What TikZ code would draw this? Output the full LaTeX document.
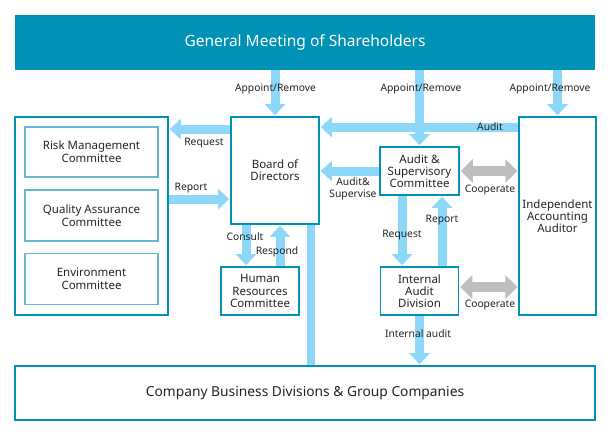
\documentclass[tikz,border=0pt]{standalone}
\usepackage{fontspec}
\setmainfont{Noto Sans}
\usetikzlibrary{arrows.meta}
\definecolor{govteal}{RGB}{0,146,182}
\definecolor{subteal}{RGB}{104,182,208}
\definecolor{flowblue}{RGB}{141,216,248}
\definecolor{coopgray}{RGB}{189,190,192}
\definecolor{inktext}{RGB}{35,35,35}
\tikzset{
	orgbox/.style   = {draw=govteal, line width=1.8pt, align=center, text=inktext,
	                   font=\fontsize{11.5}{12.3}\selectfont},
	subbox/.style   = {orgbox, draw=subteal, font=\fontsize{11.5}{13}\selectfont},
	flow/.style     = {draw=flowblue, line width=9pt, shorten >=0.9pt,
	                   -{Triangle[width=20pt,length=11pt]}},
	flowline/.style = {draw=flowblue, line width=8pt},
	coop/.style     = {draw=coopgray, line width=10pt, shorten >=0.9pt, shorten <=0.9pt,
	                   {Triangle[width=23pt,length=12pt]}-{Triangle[width=23pt,length=12pt]}},
	flowlabel/.style= {text=inktext, align=center, inner sep=0pt,
	                   font=\fontsize{10.3}{12}\selectfont}
}
\begin{document}
\begin{tikzpicture}[x=1pt, y=-1pt]
	\useasboundingbox (0,0) rectangle (610,436);
	% shareholders and business
	\node [fill=govteal, text=white, minimum width=580pt, minimum height=55pt,
	       font=\fontsize{15.5}{17}\selectfont] (gm) at (305,42.5) {General Meeting of Shareholders};
	\node [orgbox, minimum width=580pt, minimum height=54pt,
	       font=\fontsize{13.8}{15}\selectfont] (cbd) at (305,393) {Company Business Divisions \& Group Companies};
	% committees on the left
	\node [orgbox, minimum width=153pt, minimum height=198pt] (grp) at (91.5,216) {};
	\node [subbox, minimum width=133pt, minimum height=50pt] (risk) at (91.5,152)   {Risk Management\\Committee};
	\node [subbox, minimum width=133pt, minimum height=51pt] (qa)   at (91.5,215.5) {Quality Assurance\\Committee};
	\node [subbox, minimum width=133pt, minimum height=51pt] (env)  at (91.5,279)   {Environment\\Committee};
	% board and audit
	\node [orgbox, minimum width=88pt, minimum height=107pt] (bod) at (275,170.5)  {Board of\\Directors};
	\node [orgbox, minimum width=79pt, minimum height=48pt]  (asc) at (419.5,171)  {Audit \&\\Supervisory\\Committee};
	\node [orgbox, minimum width=74pt, minimum height=198pt] (iaa) at (557.5,216)  {Independent\\Accounting\\Auditor};
	\node [orgbox, minimum width=78pt, minimum height=48pt]  (hrc) at (260,291)    {Human\\Resources\\Committee};
	\node [orgbox, minimum width=78pt, minimum height=48pt]  (iad) at (419.5,291)  {Internal\\Audit\\Division};

	% flows
	\draw [flow] (gm.south -| bod.north) -- (bod.north);
	\draw [flow] (gm.south -| asc.north) -- (asc.north);
	\draw [flow] (gm.south -| iaa.north) -- (iaa.north);
	\draw [flow] ([yshift=-11pt]iaa.north west) -- ([yshift=-11pt]iaa.north west -| bod.east);
	\draw [flow] ([yshift=-13pt]bod.north west) -- ([yshift=-13pt]bod.north west -| grp.east);
	\draw [flow] ([yshift=-83pt]grp.north east) -- ([yshift=-83pt]grp.north east -| bod.west);
	\draw [flow] (asc.west) -- (asc.west -| bod.east);
	\draw [flow] ([xshift=-29pt]bod.south) -- ([xshift=-29pt]bod.south |- hrc.north);
	\draw [flow] ([xshift=5pt]bod.south |- hrc.north) -- ([xshift=5pt]bod.south);
	\draw [flowline] ([xshift=36pt]bod.south) -- ([xshift=36pt]bod.south |- cbd.north);
	\draw [flow] ([xshift=-17.5pt]asc.south) -- ([xshift=-17.5pt]asc.south |- iad.north);
	\draw [flow] ([xshift=22.5pt]asc.south |- iad.north) -- ([xshift=22.5pt]asc.south);
	\draw [flow] (iad.south) -- (iad.south |- cbd.north);
	\draw [coop] (asc.east) -- (asc.east -| iaa.west);
	\draw [coop] ([yshift=4pt]iad.east) -- ([yshift=4pt]iad.east -| iaa.west);

	% labels
	\node [flowlabel] (lapp1)  at (275.5,89) {Appoint/Remove};
	\node [flowlabel] (lapp2)  at (421,89)   {Appoint/Remove};
	\node [flowlabel] (lapp3)  at (550,89)   {Appoint/Remove};
	\node [flowlabel] (laudit) at (490,127)  {Audit};
	\node [flowlabel] (lreq1)  at (204,143)  {Request};
	\node [flowlabel] (lrep1)  at (191,188)  {Report};
	\node [flowlabel] (lsup)   at (353,189)  {Audit\&\\Supervise};
	\node [flowlabel] (lcoop1) at (490,190)  {Cooperate};
	\node [flowlabel] (lcons)  at (245,237)  {Consult};
	\node [flowlabel] (lresp)  at (277,252)  {Respond};
	\node [flowlabel] (lreq2)  at (402,235)  {Request};
	\node [flowlabel] (lrep2)  at (442,220)  {Report};
	\node [flowlabel] (lcoop2) at (490,305)  {Cooperate};
	\node [flowlabel] (lint)   at (418,334)  {Internal audit};
\end{tikzpicture}
\end{document}
